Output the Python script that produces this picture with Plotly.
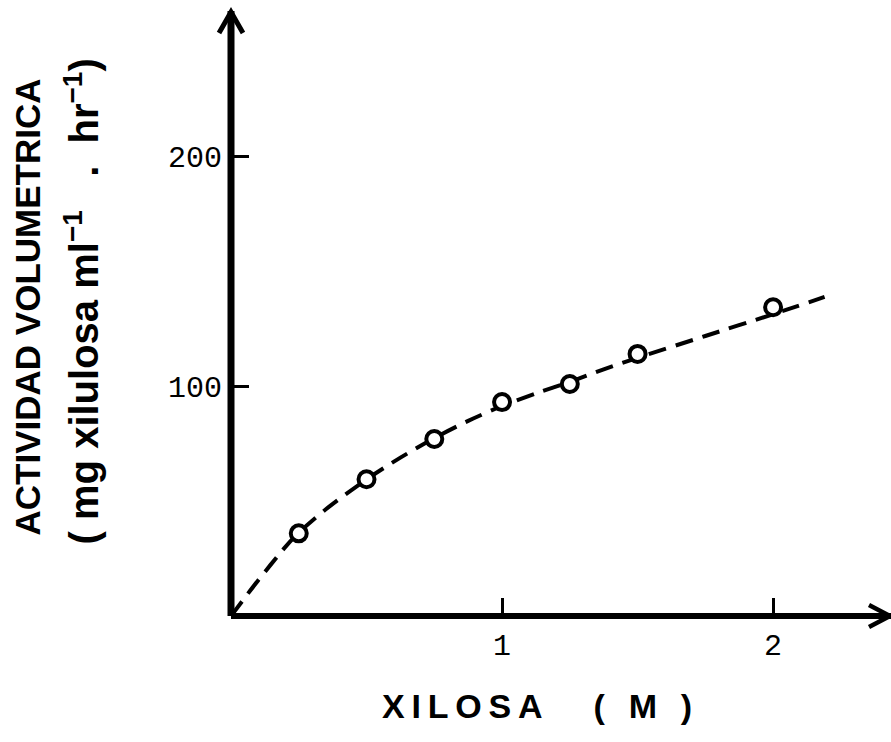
import plotly.graph_objects as go

xilosa_pts = [0.25, 0.50, 0.75, 1.00, 1.25, 1.50, 2.00]
actividad_pts = [36.0, 59.6, 77.1, 93.2, 101.1, 114.2, 134.5]

# Dashed fitted curve
curve_x = [0.0, 0.10, 0.20, 0.25, 0.35, 0.50, 0.625, 0.75, 0.875, 1.00, 1.125, 1.25, 1.375, 1.50, 1.75, 2.00, 2.19]
curve_y = [0.0, 15.5, 30.0, 36.3, 46.5, 59.5, 69.0, 77.5, 85.0, 91.5, 97.0, 102.0, 107.5, 112.5, 122.0, 131.5, 139.0]

x_tickvals = [1, 2]
x_ticktext = ["1", "2"]
y_tickvals = [100, 200]
y_ticktext = ["100", "200"]

XMAX = 2.435
YMAX = 263.6

fig = go.Figure()
fig.add_trace(go.Scatter(
    x=curve_x, y=curve_y, mode="lines",
    line=dict(color="black", width=4, dash="18px,10px", shape="spline", smoothing=0.8),
    hoverinfo="skip", showlegend=False))
fig.add_trace(go.Scatter(
    x=xilosa_pts, y=actividad_pts, mode="markers",
    marker=dict(symbol="circle", size=16, color="white", line=dict(color="black", width=4)),
    showlegend=False, cliponaxis=False))

axis_common = dict(showgrid=False, zeroline=False, showline=False, ticks="inside",
                   tickwidth=3, ticklen=18, tickcolor="black",
                   tickfont=dict(family="Liberation Mono", size=30, color="black"))

TS = "\u2009"
fig.update_layout(
    width=891, height=742,
    margin=dict(l=231, r=0, t=11, b=126),
    paper_bgcolor="white", plot_bgcolor="white",
    xaxis=dict(range=[0, XMAX], tickvals=x_tickvals, ticktext=x_ticktext,
               ticklabelstandoff=8, **axis_common),
    yaxis=dict(range=[0, YMAX], tickvals=y_tickvals, ticktext=y_ticktext,
               ticklabelstandoff=8, **axis_common),
    shapes=[
        # axes (paper refs so they are not clipped at the plot edge)
        dict(type="line", xref="paper", yref="paper", x0=0, x1=0, y0=0, y1=1,
             line=dict(color="black", width=7), layer="above"),
        dict(type="line", xref="paper", yref="paper", x0=0, x1=1, y0=0, y1=0,
             line=dict(color="black", width=6), layer="above"),
        # arrow heads
        dict(type="path", xref="paper", yref="paper", xsizemode="pixel", ysizemode="pixel",
             xanchor=1, yanchor=0, path="M -22 11 L -1 0 L -22 -11",
             line=dict(color="black", width=4.5), layer="above"),
        dict(type="path", xref="paper", yref="paper", xsizemode="pixel", ysizemode="pixel",
             xanchor=0, yanchor=1, path="M -12 -22 L 0 -1 L 12 -22",
             line=dict(color="black", width=5), layer="above"),
    ],
    annotations=[
        dict(text="ACTIVIDAD VOLUMETRICA", xref="paper", yref="paper", x=0, y=0.51,
             xshift=-204, textangle=-90, showarrow=False, xanchor="center", yanchor="middle",
             font=dict(family="Liberation Sans", size=35, color="black", weight="bold")),
        dict(text="( mg xilulosa ml<sup>\u22121</sup>   .  hr<sup>\u22121</sup>)",
             xref="paper", yref="paper", x=0, y=0.52,
             xshift=-149, textangle=-90, showarrow=False, xanchor="center", yanchor="middle",
             font=dict(family="Liberation Sans", size=40, color="black", weight="bold")),
        dict(text=TS.join("XILOSA") + "\u2003\u2002(\u2002\u2009M\u2002\u2009)",
             xref="paper", yref="paper", x=(536.5 - 231) / 660, y=0, yshift=-90,
             showarrow=False, xanchor="center", yanchor="middle",
             font=dict(family="Liberation Sans", size=34, color="black", weight="bold")),
    ],
)

fig.write_html("out.html")
